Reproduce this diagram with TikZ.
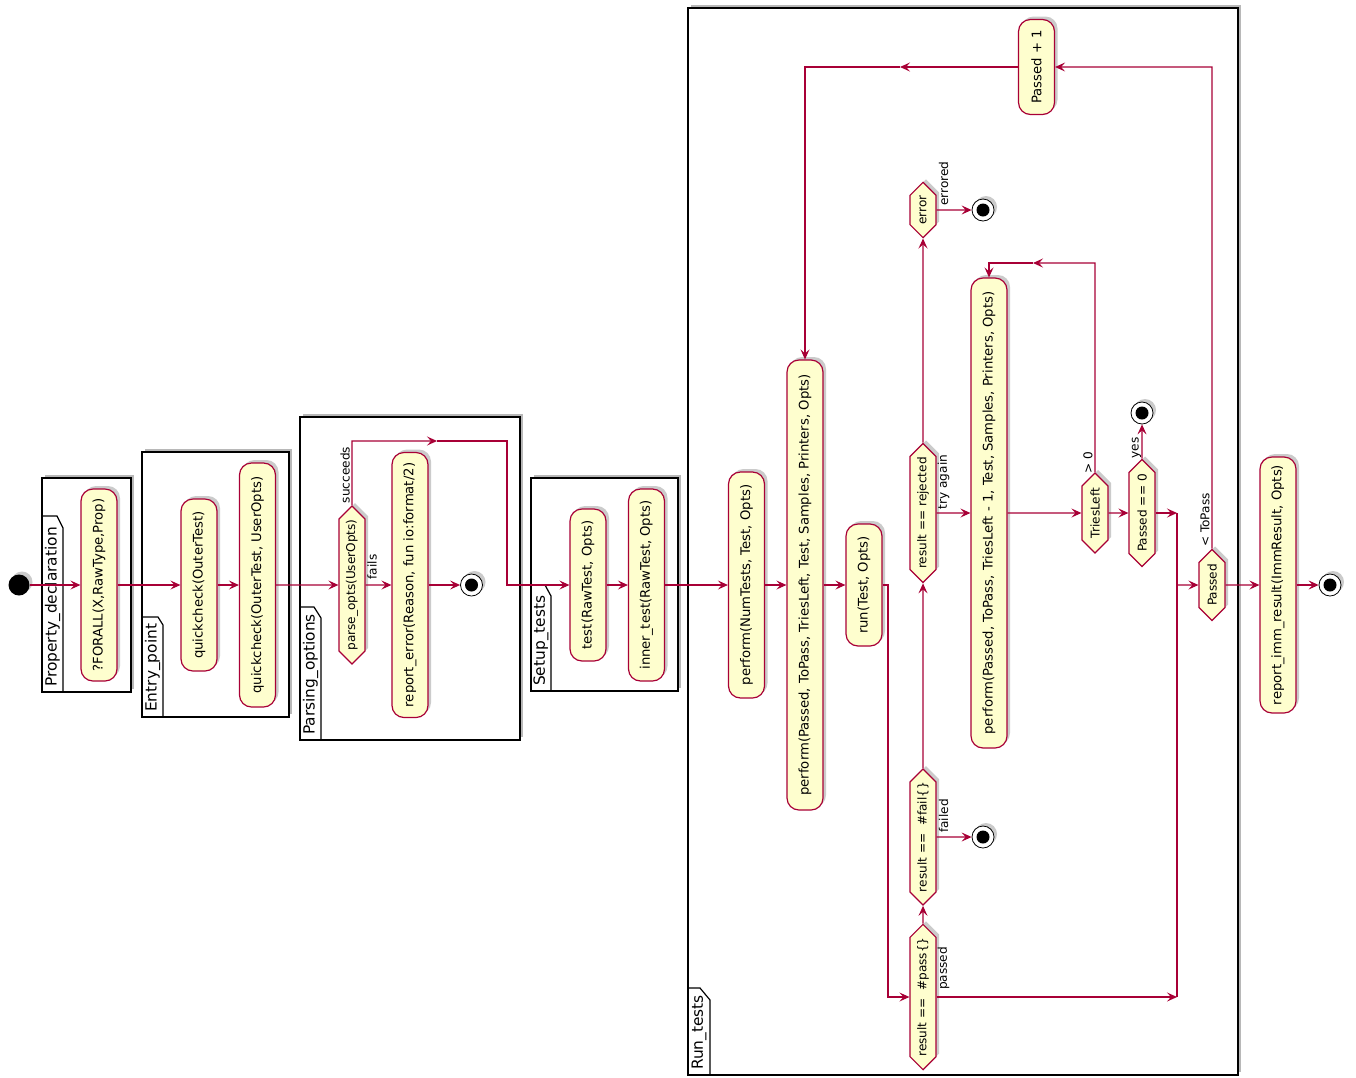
\documentclass[tikz,border=0pt]{standalone}
\usepackage{fontspec}
\setmainfont{DejaVu Sans}
\usetikzlibrary{arrows.meta,shapes.symbols,shadows}
\definecolor{umlred}{HTML}{A80036}
\definecolor{umlfill}{HTML}{FEFECE}
\begin{document}
\begin{tikzpicture}[x=1pt,y=-1pt,
  shd/.style={drop shadow={shadow xshift=3pt,shadow yshift=3pt,opacity=0.45,fill=black!45}},
  act/.style={shape=rectangle, draw=umlred, fill=umlfill, line width=1.2pt, rounded corners=12pt, rotate=90, minimum height=36pt, inner sep=0pt, font=\fontsize{13.2}{15}\selectfont, shd},
  dec/.style={shape=signal, signal to=east and west, signal pointer angle=90, draw=umlred, fill=umlfill, line width=1.2pt, rotate=90, minimum height=26pt, inner sep=0pt, font=\fontsize{12.1}{14}\selectfont, shd},
  startc/.style={circle, fill=black, minimum size=21pt, inner sep=0pt, shd},
  endc/.style={circle, draw=black, fill=white, line width=0.8pt, minimum size=22pt, inner sep=0pt, shd, path picture={\fill[black] (path picture bounding box.center) circle (6.5pt);}},
  arr/.style={draw=umlred, line width=1.2pt, -{Stealth[length=10pt,width=9pt,inset=4pt]}},
  ln/.style={draw=umlred, line width=1.2pt},
  lbl/.style={rotate=90, inner sep=0pt, font=\fontsize{12.1}{14}\selectfont},
  ttl/.style={rotate=90, anchor=west, inner sep=0pt, font=\fontsize{15.4}{18}\selectfont},
  frm/.style={draw=black, line width=1.6pt, fill=white},
  tab/.style={draw=black, line width=1.2pt},
  frmshd/.style={fill=black!28},
]
\fill[white] (0,0) rectangle (1356,1077);
\useasboundingbox (0,0) rectangle (1356,1077);

% ---------- frames ----------
% Property_declaration
\fill[frmshd] (45,475) rectangle (134,689);
\draw[frm] (42,478) rectangle (131,692);
\draw[tab] (42,516) -- (57,516) -- (63,528) -- (63,692);
\node[ttl] (tPD) at (52.5,687) {Property\_declaration};
% Entry_point
\fill[frmshd] (145,449) rectangle (292,714);
\draw[frm] (142,452) rectangle (289,717);
\draw[tab] (142,617) -- (158,617) -- (163,625) -- (163,717);
\node[ttl] (tEP) at (152.5,712) {Entry\_point};
% Parsing_options
\fill[frmshd] (303,414) rectangle (523,737);
\draw[frm] (300,417) rectangle (520,740);
\draw[tab] (300,607) -- (314,607) -- (321,618) -- (321,740);
\node[ttl] (tPO) at (310.5,735) {Parsing\_options};
% Setup_tests
\fill[frmshd] (534,475) rectangle (681,688);
\draw[frm] (531,478) rectangle (678,691);
\draw[tab] (531,585) -- (545,585) -- (551,596) -- (551,691);
\node[ttl] (tST) at (541,686) {Setup\_tests};
% Run_tests
\fill[frmshd] (691,5) rectangle (1241,1072);
\draw[frm] (688,8) rectangle (1238,1075);
\draw[tab] (688,988) -- (700,988) -- (710,1000) -- (710,1075);
\node[ttl] (tRT) at (699,1070) {Run\_tests};

% ---------- nodes ----------
\node[startc] (start) at (19,585) {};
\node[act, minimum width=192pt] (forall) at (99,585) {?FORALL(X,RawType,Prop)};
\node[act, minimum width=172pt] (qc1) at (199,585) {quickcheck(OuterTest)};
\node[act, minimum width=244pt] (qc2) at (257.5,585) {quickcheck(OuterTest, UserOpts)};
\node[dec, minimum width=158pt] (parse) at (352,585) {parse\_opts(UserOpts)};
\node[act, minimum width=265pt] (reperr) at (410,585) {report\_error(Reason, fun io:format/2)};
\node[endc] (e1) at (471.5,585) {};
\node[act, minimum width=152pt] (test) at (588,585) {test(RawTest, Opts)};
\node[act, minimum width=192pt] (inner) at (646.5,585) {inner\_test(RawTest, Opts)};
\node[act, minimum width=226pt] (pnum) at (746.5,585) {perform(NumTests, Test, Opts)};
\node[act, minimum width=450pt] (plong) at (805,585) {perform(Passed, ToPass, TriesLeft, Test, Samples, Printers, Opts)};
\node[act, minimum width=122pt] (run) at (864,585) {run(Test, Opts)};
\node[dec, minimum width=140pt] (pass) at (923,997) {result ==\ \ \#pass\{\}};
\node[dec, minimum width=128pt] (fail) at (923,837) {result ==\ \ \#fail\{\}};
\node[dec, minimum width=139pt] (rej) at (923,513) {result == rejected};
\node[dec, minimum width=55pt] (err) at (923,210) {error};
\node[endc] (e2) at (983,210) {};
\node[endc] (e3) at (983,837) {};
\node[act, minimum width=470pt] (p1) at (989,513) {perform(Passed, ToPass, TriesLeft - 1, Test, Samples, Printers, Opts)};
\node[act, minimum width=95pt] (pplus) at (1036.5,67) {Passed + 1};
\node[dec, minimum width=80pt] (tries) at (1095,513) {TriesLeft};
\node[dec, minimum width=107pt] (peq0) at (1142,513) {Passed == 0};
\node[endc] (e4) at (1142,413) {};
\node[dec, minimum width=71pt] (passed) at (1212,585) {Passed};
\node[act, minimum width=256pt] (rimm) at (1278,585) {report\_imm\_result(ImmResult, Opts)};
\node[endc] (e5) at (1330,585) {};

% ---------- helper coordinates ----------
\coordinate (s1) at (352,441);
\coordinate (s2) at (437,441);
\coordinate (s3) at (507,441);
\coordinate (s4) at (507,585);
\coordinate (r1) at (888,585);
\coordinate (m0) at (1177,513);
\coordinate (m1) at (1177,997);
\coordinate (m2) at (1177,585);
\coordinate (t1) at (1212,67);
\coordinate (t3) at (900,67);
\coordinate (t2) at (805,67);
\coordinate (u1) at (1095,263);
\coordinate (u2) at (1033,263);
\coordinate (u3) at (989,263);

% ---------- connectors ----------
\draw[arr] (start) -- (forall);
\draw[arr] (forall) -- (qc1);
\draw[arr] (qc1) -- (qc2);
\draw[arr] (qc2) -- (parse);
\draw[arr] (parse) -- (reperr);
\draw[arr] (reperr) -- (e1);
\draw[arr] (parse) -- (s1) -- (s2);
\draw[arr] (s2) -- (s3) -- (s4) -- (test);
\draw[arr] (test) -- (inner);
\draw[arr] (inner) -- (pnum);
\draw[arr] (pnum) -- (plong);
\draw[arr] (plong) -- (run);
\draw[arr] (run) -- (r1) |- (pass);
\draw[arr] (pass) -- (fail);
\draw[arr] (fail) -- (e3);
\draw[arr] (fail) -- (rej);
\draw[arr] (rej) -- (p1);
\draw[arr] (rej) -- (err);
\draw[arr] (err) -- (e2);
\draw[arr] (pass) -- (m1);
\draw[arr] (p1) -- (tries);
\draw[arr] (tries) -- (u1) -- (u2);
\draw[arr] (u2) -- (u3) -- (p1);
\draw[arr] (tries) -- (peq0);
\draw[arr] (peq0) -- (e4);
\draw[arr] (peq0) -- (m0);
\draw[ln] (m0) -- (m1);
\draw[arr] (m2) -- (passed);
\draw[arr] (passed) -- (t1) -- (pplus);
\draw[arr] (pplus) -- (t3);
\draw[arr] (t3) -- (t2) -- (plong);
\draw[arr] (passed) -- (rimm);
\draw[arr] (rimm) -- (e5);

% ---------- labels ----------
\node[lbl] (lsucc) at (345,475) {succeeds};
\node[lbl] (lfails) at (372,567) {fails};
\node[lbl] (lerr) at (943.5,183.5) {errored};
\node[lbl] (ltry) at (943.5,482) {try again};
\node[lbl] (lfailed) at (943.5,816) {failed};
\node[lbl] (lpassed) at (943.5,968.5) {passed};
\node[lbl] (lgt) at (1088,463) {> 0};
\node[lbl] (lyes) at (1136.5,448) {yes};
\node[lbl] (ltopass) at (1205,520) {< ToPass};
\end{tikzpicture}
\end{document}
